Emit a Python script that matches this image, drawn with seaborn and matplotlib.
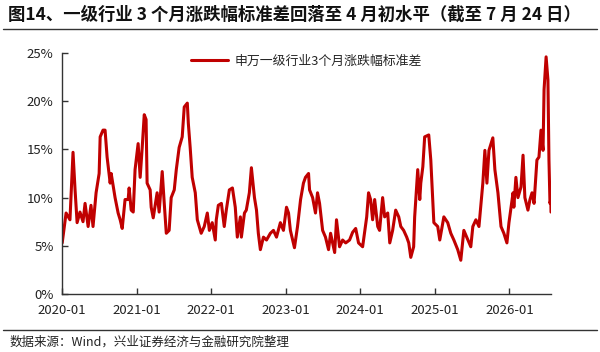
import pandas as pd
import matplotlib.pyplot as plt
import matplotlib.dates as mdates
from matplotlib.lines import Line2D
from matplotlib.ticker import FuncFormatter
import seaborn as sns

# chart data (percent)
dates = [
    '2020-01-02', '2020-01-21', '2020-02-09', '2020-02-14', '2020-02-24', '2020-03-05',
    '2020-03-15', '2020-03-29', '2020-04-13', '2020-04-23', '2020-05-08', '2020-05-22',
    '2020-06-01', '2020-06-16', '2020-07-01', '2020-07-06', '2020-07-20', '2020-07-30',
    '2020-08-09', '2020-08-24', '2020-08-29', '2020-09-17', '2020-10-02', '2020-10-12',
    '2020-10-22', '2020-11-05', '2020-11-20', '2020-11-25', '2020-12-05', '2020-12-15',
    '2020-12-24', '2021-01-08', '2021-01-18', '2021-01-28', '2021-02-07', '2021-02-16',
    '2021-02-21', '2021-03-08', '2021-03-13', '2021-03-23', '2021-04-11', '2021-04-21',
    '2021-05-06', '2021-05-16', '2021-05-26', '2021-06-09', '2021-06-19', '2021-07-04',
    '2021-07-14', '2021-07-28', '2021-08-12', '2021-08-22', '2021-09-06', '2021-09-11',
    '2021-09-20', '2021-09-30', '2021-10-15', '2021-10-25', '2021-11-13', '2021-11-28',
    '2021-12-13', '2021-12-23', '2022-01-06', '2022-01-21', '2022-01-26', '2022-02-05',
    '2022-02-20', '2022-03-06', '2022-03-16', '2022-03-31', '2022-04-15', '2022-04-29',
    '2022-05-09', '2022-05-24', '2022-05-29', '2022-06-13', '2022-06-22', '2022-07-07',
    '2022-07-17', '2022-08-01', '2022-08-11', '2022-08-20', '2022-08-30', '2022-09-14',
    '2022-09-29', '2022-10-18', '2022-11-02', '2022-11-17', '2022-12-06', '2022-12-21',
    '2023-01-05', '2023-01-15', '2023-01-24', '2023-02-13', '2023-02-28', '2023-03-15',
    '2023-03-29', '2023-04-08', '2023-04-23', '2023-04-28', '2023-05-13', '2023-05-27',
    '2023-06-06', '2023-06-16', '2023-07-01', '2023-07-15', '2023-07-30', '2023-08-09',
    '2023-08-29', '2023-09-07', '2023-09-22', '2023-10-07', '2023-10-22', '2023-11-10',
    '2023-11-25', '2023-12-10', '2023-12-24', '2024-01-13', '2024-02-02', '2024-02-11',
    '2024-02-21', '2024-03-02', '2024-03-12', '2024-03-27', '2024-04-05', '2024-04-20',
    '2024-04-30', '2024-05-15', '2024-05-25', '2024-06-08', '2024-06-23', '2024-07-08',
    '2024-07-18', '2024-08-01', '2024-08-16', '2024-08-26', '2024-09-05', '2024-09-19',
    '2024-09-24', '2024-10-09', '2024-10-19', '2024-10-24', '2024-11-03', '2024-11-12',
    '2024-12-02', '2024-12-12', '2024-12-27', '2025-01-15', '2025-01-25', '2025-02-14',
    '2025-03-05', '2025-03-20', '2025-04-04', '2025-04-23', '2025-05-08', '2025-05-23',
    '2025-06-12', '2025-06-26', '2025-07-06', '2025-07-21', '2025-08-05', '2025-08-24',
    '2025-09-03', '2025-09-13', '2025-09-23', '2025-10-12', '2025-10-22', '2025-11-06',
    '2025-11-21', '2025-12-05', '2025-12-20', '2025-12-30', '2026-01-19', '2026-01-23',
    '2026-02-02', '2026-02-12', '2026-02-27', '2026-03-09', '2026-03-18', '2026-04-02',
    '2026-04-12', '2026-04-22', '2026-05-02', '2026-05-16', '2026-05-26', '2026-06-05',
    '2026-06-15', '2026-06-20', '2026-06-30', '2026-07-09', '2026-07-14', '2026-07-19',
    '2026-07-23', '2026-07-24',
]
std_3m = [
    5.3, 8.4, 7.7, 10.0, 14.7, 10.8,
    7.4, 8.5, 7.5, 9.4, 7.0, 9.2,
    7.0, 10.5, 12.5, 16.3, 17.0, 17.0,
    14.2, 11.5, 12.5, 10.0, 8.4, 7.7,
    6.8, 9.8, 9.8, 11.0, 8.7, 8.5,
    12.9, 15.6, 12.1, 15.2, 18.6, 18.1,
    11.5, 10.8, 9.0, 7.9, 10.5, 8.5,
    12.7, 9.4, 6.3, 6.6, 10.0, 10.8,
    12.9, 15.2, 16.3, 19.4, 19.8, 17.7,
    15.2, 12.1, 10.5, 7.7, 6.3, 7.0,
    8.4, 6.6, 7.4, 5.6, 7.7, 9.2,
    9.4, 7.0, 8.7, 10.8, 11.0, 9.0,
    5.9, 8.0, 5.9, 8.4, 8.7, 10.5,
    13.1, 10.0, 8.7, 6.3, 4.6, 5.9,
    5.6, 6.3, 6.6, 5.9, 7.4, 6.6,
    9.0, 8.4, 6.6, 4.8, 7.0, 9.8,
    11.5, 12.1, 12.5, 10.8, 10.0, 8.4,
    10.5, 9.4, 6.6, 5.9, 4.6, 6.3,
    4.3, 7.7, 4.9, 5.6, 5.3, 5.6,
    6.4, 6.8, 5.3, 4.9, 8.0, 10.5,
    9.8, 7.7, 9.8, 7.0, 6.6, 10.0,
    8.0, 8.4, 5.3, 6.6, 8.7, 8.0,
    7.0, 6.6, 5.9, 5.3, 3.8, 4.9,
    8.0, 12.9, 9.8, 11.5, 13.2, 16.3,
    16.5, 13.9, 7.4, 7.0, 5.6, 8.0,
    7.4, 6.3, 5.6, 4.6, 3.5, 6.6,
    5.6, 4.9, 7.0, 7.7, 7.0, 11.5,
    14.9, 11.5, 14.9, 16.2, 12.9, 10.5,
    7.0, 6.3, 5.3, 7.4, 10.5, 9.0,
    12.1, 10.0, 11.1, 14.4, 10.0, 8.7,
    9.8, 10.5, 9.4, 13.9, 14.2, 17.0,
    14.9, 21.2, 24.6, 22.2, 13.9, 9.4,
    9.8, 8.5,
]
series_name = '申万一级行业3个月涨跌幅标准差'
tick_dates = ['2020-01-01', '2021-01-01', '2022-01-01', '2023-01-01',
              '2024-01-01', '2025-01-01', '2026-01-01']
title = '图14、一级行业 3 个月涨跌幅标准差回落至 4 月初水平（截至 7 月 24 日）'
source = '数据来源：Wind，兴业证券经济与金融研究院整理'

df = pd.DataFrame({'date': pd.to_datetime(dates), 'value': std_3m, 'name': series_name})

sns.set_style('ticks')
plt.rcParams['font.family'] = ['Noto Sans CJK SC', 'DejaVu Sans']

fig = plt.figure(figsize=(6, 3.52), dpi=100)
ax = fig.add_axes([62 / 600, 1 - 294 / 352, (551 - 62) / 600, (294 - 53) / 352])

sns.lineplot(data=df, x='date', y='value', hue='name', palette=['#C00000'],
             linewidth=2.2, ax=ax)

ax.set_xlim(pd.Timestamp('2020-01-01'), pd.Timestamp('2026-07-24'))
ax.set_ylim(0, 25)
ax.set_yticks([0, 5, 10, 15, 20, 25])
ax.yaxis.set_major_formatter(FuncFormatter(lambda v, p: f'{v:.0f}%'))
ax.set_xticks(pd.to_datetime(tick_dates))
ax.xaxis.set_major_formatter(mdates.DateFormatter('%Y-%m'))
ax.set_xlabel('')
ax.set_ylabel('')
ax.tick_params(direction='in', length=4, width=1, colors='#333333',
               labelcolor='#222222', labelsize=9.5)
ax.tick_params(axis='x', pad=7)
ax.tick_params(axis='y', pad=6)
for s in ['left', 'bottom']:
    ax.spines[s].set_color('#333333')
    ax.spines[s].set_linewidth(1)
sns.despine(ax=ax)

ax.legend(loc='upper center', bbox_to_anchor=(0.5, 1.04), frameon=False,
          fontsize=9.3, handlelength=2.8, handletextpad=0.5)

fig.text(8 / 600, 1 - 15 / 352, title, fontsize=12.5, fontweight='bold',
         va='center', ha='left', color='#111111')
fig.add_artist(Line2D([3 / 600, 597 / 600], [1 - 29 / 352, 1 - 29 / 352],
                      color='#333333', linewidth=1))
fig.add_artist(Line2D([3 / 600, 597 / 600], [1 - 330 / 352, 1 - 330 / 352],
                      color='#333333', linewidth=1))
fig.text(10 / 600, 1 - 342 / 352, source, fontsize=9, va='center', ha='left',
         color='#222222')

fig.savefig('out.png', dpi=100)
